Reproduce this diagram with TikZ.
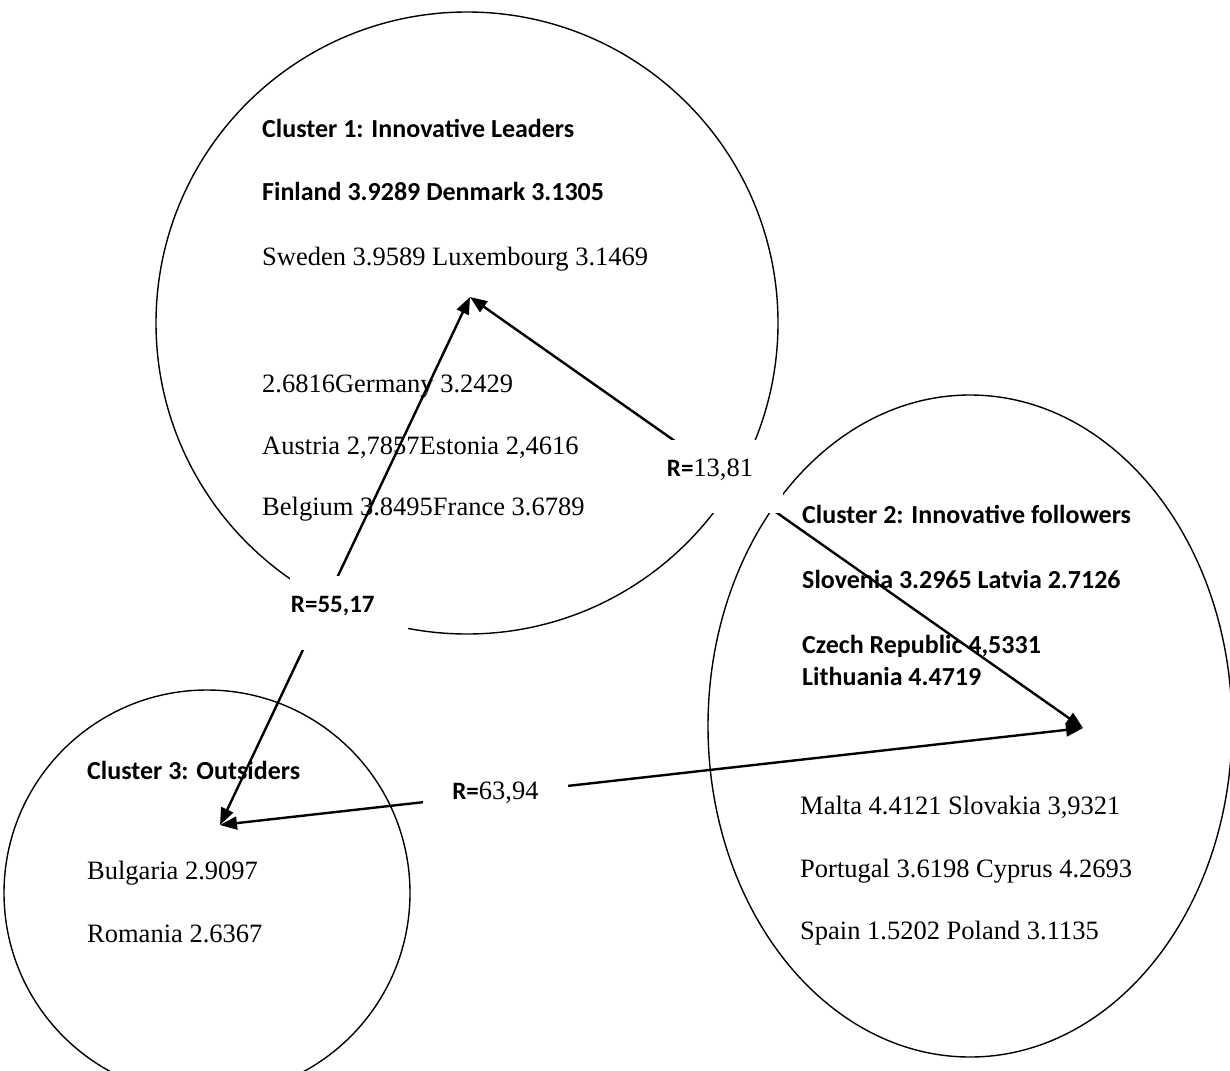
\documentclass[tikz,border=0pt]{standalone}
\usepackage{fontspec}
\setmainfont{Liberation Serif}
\newfontfamily\calibri{Carlito}
\usetikzlibrary{arrows.meta,shapes.geometric}
\newcommand{\rlab}[1]{{\calibri\bfseries\fontsize{25}{29}\selectfont #1}}

\begin{document}
\begin{tikzpicture}[x=1pt, y=-1pt,
    ring/.style={draw, line width=1.4pt, inner sep=0pt},
    hdr/.style={anchor=base west, inner sep=0pt, font=\calibri\bfseries\fontsize{26}{30}\selectfont},
    txt/.style={anchor=base west, inner sep=0pt, font=\fontsize{26.5}{30}\selectfont},
    duo/.style={line width=2.4pt, {Triangle[length=17pt,width=13pt]}-{Triangle[length=17pt,width=13pt]}},
    lbl/.style={fill=white, inner sep=0pt, font=\fontsize{26.5}{30}\selectfont}
  ]
  \clip (0,0) rectangle (1230,1070);
  % the three clusters
  \node[ring, circle, minimum size=622pt] (lead) at (467,323) {};
  \node[ring, ellipse, minimum width=524pt, minimum height=662pt] (foll) at (970,726) {};
  \node[ring, circle, minimum size=406pt] (outs) at (207,893) {};

  % cluster 1
  \node[hdr] (leadT) at (262,137) {Cluster 1: Innovative Leaders};
  \node[hdr] (leadA) at (262,200) {Finland 3.9289 Denmark 3.1305};
  \node[txt] (leadB) at (262,265) {Sweden 3.9589 Luxembourg 3.1469};
  \node[txt] (leadC) at (262,392) {2.6816Germany 3.2429};
  \node[txt] (leadD) at (262,454) {Austria 2,7857Estonia 2,4616};
  \node[txt] (leadE) at (262,515) {Belgium 3.8495France 3.6789};

  % cluster 2
  \node[hdr] (follT) at (802,523) {Cluster 2: Innovative followers};
  \node[hdr] (follA) at (802,588) {Slovenia 3.2965 Latvia 2.7126};
  \node[hdr] (follB) at (802,653) {Czech Republic 4,5331};
  \node[hdr] (follC) at (802,685) {Lithuania 4.4719};
  \node[txt] (follD) at (800,814) {Malta 4.4121 Slovakia 3,9321};
  \node[txt] (follE) at (800,877) {Portugal 3.6198 Cyprus 4.2693};
  \node[txt] (follF) at (800,939) {Spain 1.5202 Poland 3.1135};

  % cluster 3
  \node[hdr] (outsT) at (87,779) {Cluster 3: Outsiders};
  \node[txt] (outsA) at (87,879) {Bulgaria 2.9097};
  \node[txt] (outsB) at (87,942) {Romania 2.6367};

  % distances between clusters
  \coordinate (pLead) at (470,297);
  \coordinate (pFoll) at (1083,728);
  \coordinate (pOuts) at (220,825);
  \draw[duo] (pOuts) -- node[lbl, pos=.4015, xshift=28.6pt, text width=116pt,
    inner xsep=1pt, align=left, text height=36pt, text depth=38pt] (rLO) {\rlab{R=55,17}} (pLead);
  \draw[duo] (pLead) -- node[lbl, pos=.4165, xshift=-15.3pt, minimum width=146pt,
    text height=36pt, text depth=37pt] (rLF) {\rlab{R=}13,81} (pFoll);
  \draw[duo] (pOuts) -- node[lbl, pos=.3192, yshift=-3.5pt, minimum width=145pt,
    text height=34pt, text depth=31pt] (rOF) {\rlab{R=}63,94} (pFoll);
\end{tikzpicture}
\end{document}
